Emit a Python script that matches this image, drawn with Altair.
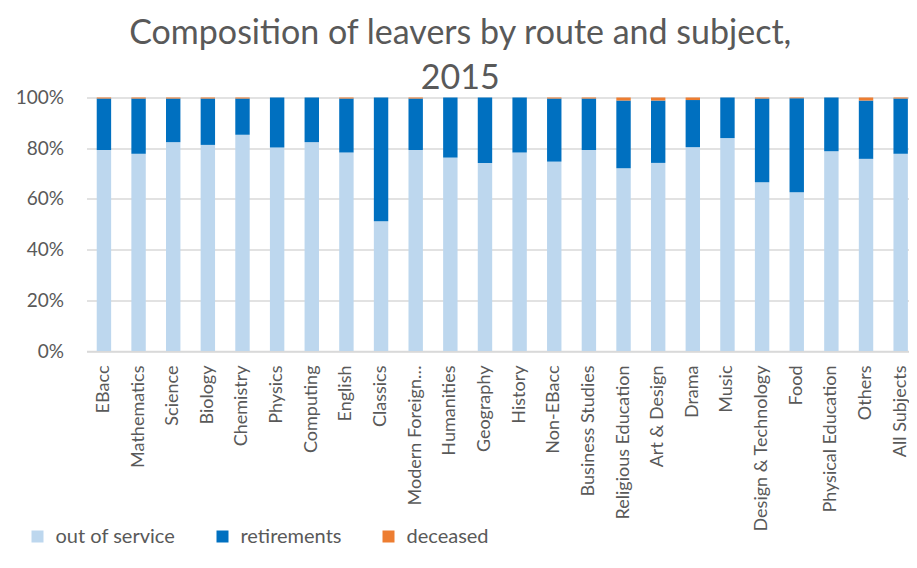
import altair as alt
import pandas as pd

subjects = [
    "EBacc", "Mathematics", "Science", "Biology", "Chemistry", "Physics",
    "Computing", "English", "Classics", "Modern Foreign Languages",
    "Humanities", "Geography", "History", "Non-EBacc", "Business Studies",
    "Religious Education", "Art & Design", "Drama", "Music",
    "Design & Technology", "Food", "Physical Education", "Others",
    "All Subjects",
]
out_of_service = [79.3, 77.8, 82.4, 81.3, 85.3, 80.3, 82.4, 78.3, 51.2, 79.3,
                  76.3, 74.2, 78.3, 74.7, 79.3, 72.1, 74.2, 80.4, 84.0, 66.6,
                  62.6, 78.8, 75.8, 77.8]
retirements = [20.3, 21.8, 17.2, 18.3, 14.3, 19.7, 17.6, 21.3, 48.8, 20.3,
               23.7, 25.8, 21.7, 24.9, 20.3, 26.7, 24.6, 18.6, 16.0, 33.0,
               37.1, 21.2, 23.0, 21.8]
deceased = [0.4, 0.4, 0.4, 0.4, 0.4, 0.0, 0.0, 0.4, 0.0, 0.4,
            0.0, 0.0, 0.0, 0.4, 0.4, 1.2, 1.2, 1.0, 0.0, 0.4,
            0.3, 0.0, 1.2, 0.4]

series_names = ["out of service", "retirements", "deceased"]
series_colors = ["#BDD7EE", "#0070C0", "#ED7D31"]

rows = []
for i, s in enumerate(subjects):
    for k, (name, vals) in enumerate(zip(series_names, [out_of_service, retirements, deceased])):
        rows.append({"subject": s, "series": name, "value": vals[i], "order": k})
df = pd.DataFrame(rows)

TXT = "#595959"
GRID = "#D9D9D9"

chart = alt.Chart(df).mark_bar().encode(
    x=alt.X(
        "subject:N", sort=subjects,
        scale=alt.Scale(paddingInner=0.584, paddingOuter=0.164, align=0.9),
        axis=alt.Axis(title=None, labelAngle=270, labelFont="Lato", labelFontSize=18,
                      labelColor=TXT, labelPadding=14, ticks=False,
                      domainColor=GRID, domainWidth=1.5, labelLimit=220, grid=False,
                      labelExpr="datum.value == 'Modern Foreign Languages' ? 'Modern Foreign\u2026' : datum.value"),
    ),
    y=alt.Y(
        "value:Q", stack="normalize",
        scale=alt.Scale(domain=[0, 1]),
        axis=alt.Axis(title=None, format=".0%", values=[0, 0.2, 0.4, 0.6, 0.8, 1.0],
                      ticks=False, domain=False, gridColor=GRID, gridWidth=1.5,
                      labelFont="Lato", labelFontSize=19, labelColor=TXT,
                      labelPadding=23),
    ),
    color=alt.Color(
        "series:N",
        scale=alt.Scale(domain=series_names, range=series_colors),
        legend=alt.Legend(title=None, orient="none", direction="horizontal",
                          legendX=-59, legendY=429, symbolType="square",
                          symbolSize=144, symbolStrokeWidth=0, labelFont="Lato",
                          labelFontSize=20, labelColor=TXT, labelOffset=8,
                          columnPadding=37),
    ),
    order=alt.Order("order:Q"),
).properties(
    width=822.5,
    height=253.5,
    title=alt.TitleParams(
        text=["Composition of leavers by route and subject,", "2015"],
        font="Lato", fontSize=34, fontWeight="normal", color=TXT,
        anchor="middle", dx=-37.5, lineHeight=45, offset=-7,
    ),
    padding={"left": 78.5, "top": 89.5, "right": 0, "bottom": 209},
    autosize="none",
).configure_view(stroke=None)

chart.save("out.html", embed_options={"renderer": "svg", "actions": False})
